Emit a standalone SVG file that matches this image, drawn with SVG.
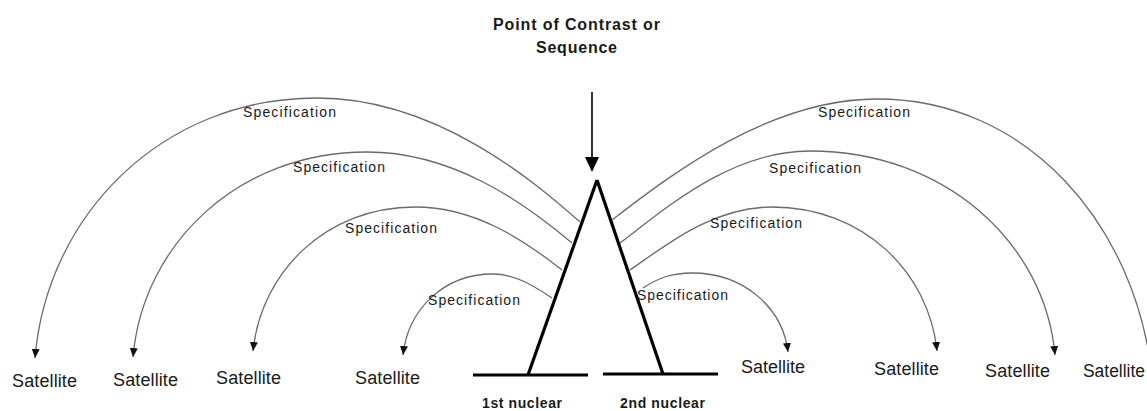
<svg xmlns="http://www.w3.org/2000/svg" width="1147" height="411" viewBox="0 0 1147 411">
<style>
.title{font-family:"Liberation Sans",Arial,sans-serif;font-size:16px;font-weight:bold;fill:#1a1a1a}
.nuc{font-family:"Liberation Sans",Arial,sans-serif;font-size:14px;font-weight:bold;fill:#1a1a1a}
.spec{font-family:"Liberation Sans",Arial,sans-serif;font-size:14px;fill:#1a1a1a}
.sat{font-family:"Liberation Sans",Arial,sans-serif;font-size:18px;fill:#1a1a1a}
.arc{fill:none;stroke:#6a6a6a;stroke-width:1.3;marker-end:url(#ah)}
.thick{fill:none;stroke:#000;stroke-width:3.2}
</style>
<defs>
<marker id="ah" markerUnits="userSpaceOnUse" markerWidth="10" markerHeight="8" refX="9" refY="4" orient="auto">
<path d="M0,0 L9,4 L0,8 z" fill="#111"/>
</marker>
</defs>
<rect width="1147" height="411" fill="#fff"/>
<g id="title">
<text class="title" x="493" y="30" textLength="167" lengthAdjust="spacing">Point of Contrast or</text>
<text class="title" x="536" y="53" textLength="81" lengthAdjust="spacing">Sequence</text>
</g>
<g id="pointer">
<line x1="592" y1="92" x2="592" y2="158" stroke="#000" stroke-width="1.6"/>
<path d="M585,157 L599,157 L592,172 z" fill="#000"/>
</g>
<g id="nuclear-1">
<line class="thick" x1="473" y1="375" x2="588" y2="375"/>
<line class="thick" x1="597" y1="180" x2="528" y2="375"/>
<text class="nuc" x="482" y="408" textLength="80" lengthAdjust="spacing">1st nuclear</text>
</g>
<g id="nuclear-2">
<line class="thick" x1="603" y1="374" x2="718" y2="374"/>
<line class="thick" x1="597" y1="180" x2="663" y2="374"/>
<text class="nuc" x="620" y="408" textLength="85" lengthAdjust="spacing">2nd nuclear</text>
</g>
<g id="connectors">
<path class="arc" d="M580,222 C540,187 440,98 317,98 C162,98 47,215 35,358"/>
<path class="arc" d="M572,243 C522,201 452,152 367,152 C238,152 143,244 133,357"/>
<path class="arc" d="M562,270 C524,240 475,207 415,207 C326,207 261,272 253,351"/>
<path class="arc" d="M552,298 C534,286 515,274 493,274 C443,274 408,310 403,355"/>
<path class="arc" d="M612,220 C667,178 767,99 877,99 C1028,99 1135,225 1152,375"/>
<path class="arc" d="M620,243 C665,209 730,151 810,151 C945,151 1045,243 1055,355"/>
<path class="arc" d="M630,270 C665,246 712,207 772,207 C863,207 929,272 937,351"/>
<path class="arc" d="M643,288 C658,278 672,273 692,273 C745,273 783,309 788,352"/>
</g>
<g id="spec-labels">
<text class="spec" x="243" y="117" textLength="93" lengthAdjust="spacing">Specification</text>
<text class="spec" x="293" y="172" textLength="92" lengthAdjust="spacing">Specification</text>
<text class="spec" x="345" y="233" textLength="92" lengthAdjust="spacing">Specification</text>
<text class="spec" x="428" y="305" textLength="92" lengthAdjust="spacing">Specification</text>
<text class="spec" x="818" y="117" textLength="92" lengthAdjust="spacing">Specification</text>
<text class="spec" x="769" y="173" textLength="92" lengthAdjust="spacing">Specification</text>
<text class="spec" x="710" y="228" textLength="92" lengthAdjust="spacing">Specification</text>
<text class="spec" x="637" y="300" textLength="91" lengthAdjust="spacing">Specification</text>
</g>
<g id="sat-1"><text class="sat" x="12" y="387" textLength="65" lengthAdjust="spacing">Satellite</text></g>
<g id="sat-2"><text class="sat" x="113" y="386" textLength="65" lengthAdjust="spacing">Satellite</text></g>
<g id="sat-3"><text class="sat" x="216" y="384" textLength="65" lengthAdjust="spacing">Satellite</text></g>
<g id="sat-4"><text class="sat" x="355" y="384" textLength="65" lengthAdjust="spacing">Satellite</text></g>
<g id="sat-5"><text class="sat" x="741" y="373" textLength="64" lengthAdjust="spacing">Satellite</text></g>
<g id="sat-6"><text class="sat" x="874" y="375" textLength="65" lengthAdjust="spacing">Satellite</text></g>
<g id="sat-7"><text class="sat" x="985" y="377" textLength="65" lengthAdjust="spacing">Satellite</text></g>
<g id="sat-8"><text class="sat" x="1083" y="377" textLength="62" lengthAdjust="spacingAndGlyphs">Satellite</text></g>
</svg>
